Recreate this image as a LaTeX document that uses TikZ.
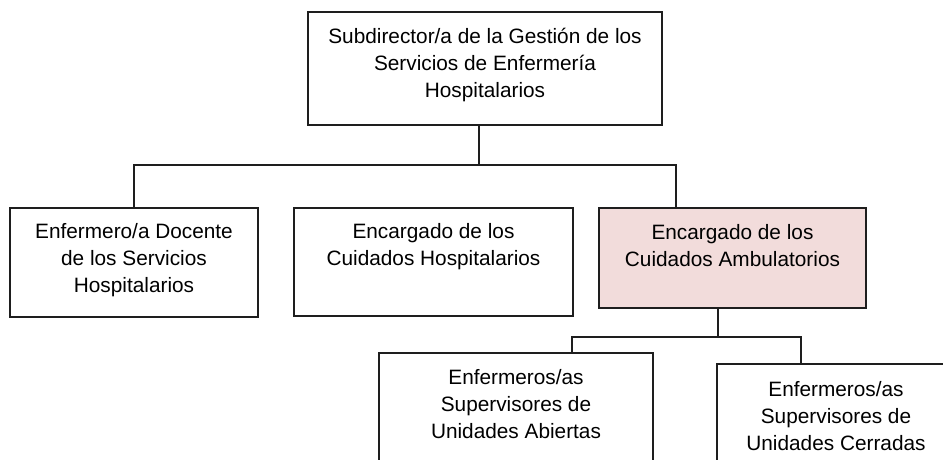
\documentclass[tikz,border=0pt]{standalone}
\usepackage{fontspec}
\setmainfont{Liberation Sans}
\definecolor{pinkfill}{RGB}{242,220,219}
\definecolor{linecol}{RGB}{30,30,30}
\begin{document}
\begin{tikzpicture}[x=1pt,y=-1pt,
  box/.style={draw=linecol, line width=1.3pt, inner sep=0pt, fill=white},
  lbl/.style={anchor=base, align=center, inner sep=0pt, text=black,
    font=\fontsize{20.8}{27}\selectfont},
  conn/.style={draw=linecol, line width=1.3pt}]
\useasboundingbox (0,0) rectangle (943,460);
\clip (0,0) rectangle (943,460);
% boxes
\node[box, minimum width=354pt, minimum height=113pt] (t) at (485,68.5) {};
\node[box, minimum width=248pt, minimum height=109pt] (a) at (134,262.5) {};
\node[box, minimum width=279pt, minimum height=108pt] (b) at (433.5,262) {};
\node[box, fill=pinkfill, minimum width=267pt, minimum height=100pt] (c) at (732.5,258) {};
\node[box, minimum width=274pt, minimum height=127pt] (d) at (516,416.5) {};
\node[box, minimum width=238pt, minimum height=116pt] (e) at (836,422) {};
% labels (anchor = baseline of the last line)
\node[lbl] (tl) at ([yshift=-86pt]t.north) {Subdirector/a de la Gestión de los\\Servicios de Enfermería\\Hospitalarios};
\node[lbl] (al) at ([yshift=-85pt]a.north) {Enfermero/a Docente\\de los Servicios\\Hospitalarios};
\node[lbl] (bl) at ([yshift=-58pt]b.north) {Encargado de los\\Cuidados Hospitalarios};
\node[lbl] (cl) at ([yshift=-59pt]c.north) {Encargado de los\\Cuidados Ambulatorios};
\node[lbl] (dl) at ([yshift=-86pt]d.north) {Enfermeros/as\\Supervisores de\\Unidades Abiertas};
\node[lbl] (el) at ([yshift=-87pt]e.north) {Enfermeros/as\\Supervisores de\\Unidades Cerradas};
% connectors
\coordinate (j1) at (479,165);
\coordinate (j2) at (718,337);
\draw[conn] ([xshift=-6pt]t.south) -- (j1);
\draw[conn] (a.north) |- (j1) -| ([xshift=-56.5pt]c.north);
\draw[conn] ([xshift=-14.5pt]c.south) -- (j2);
\draw[conn] ([xshift=56pt]d.north) |- (j2) -| ([xshift=-35pt]e.north);
\end{tikzpicture}
\end{document}
